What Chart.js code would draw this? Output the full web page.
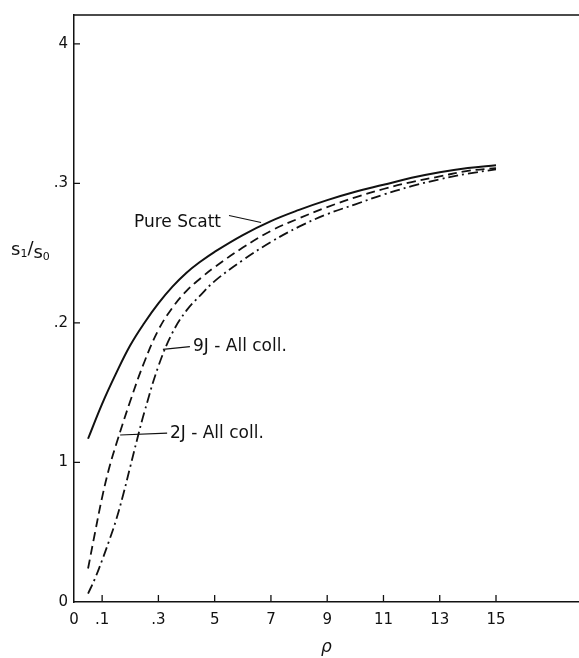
<!DOCTYPE html>
<html>
<head>
<meta charset="utf-8">
<script src="https://cdn.jsdelivr.net/npm/chart.js@4.4.1/dist/chart.umd.min.js"></script>
<style>
    html, body { margin: 0; padding: 0; background: #fff; }
    #wrap { width: 579px; height: 658px; position: relative; }
</style>
</head>
<body>
<div id="wrap"><canvas id="chart"></canvas></div>
<script>
    // Data
    const rhoPure = [0.5, 1, 1.5, 2, 2.5, 3, 3.5, 4, 4.5, 5, 6, 7, 8, 9, 10, 11, 12, 13, 14, 15];
    const pureScatt = [0.117, 0.142, 0.164, 0.184, 0.200, 0.214, 0.226, 0.236, 0.244, 0.251, 0.263, 0.273, 0.281, 0.288, 0.294, 0.299, 0.304, 0.308, 0.311, 0.313];

    const rho9J = [0.5, 0.75, 1, 1.25, 1.5, 2, 2.5, 3, 3.5, 4, 4.5, 5, 6, 7, 8, 9, 10, 11, 12, 13, 14, 15];
    const allColl9J = [0.024, 0.050, 0.075, 0.096, 0.113, 0.144, 0.172, 0.195, 0.211, 0.223, 0.232, 0.240, 0.254, 0.266, 0.275, 0.283, 0.290, 0.296, 0.301, 0.305, 0.309, 0.311];

    const rho2J = [0.5, 0.75, 1, 1.25, 1.5, 1.75, 2, 2.25, 2.5, 3, 3.5, 4, 4.5, 5, 6, 7, 8, 9, 10, 11, 12, 13, 14, 15];
    const allColl2J = [0.006, 0.017, 0.030, 0.044, 0.059, 0.077, 0.097, 0.117, 0.136, 0.169, 0.193, 0.209, 0.220, 0.230, 0.245, 0.258, 0.269, 0.278, 0.285, 0.292, 0.298, 0.303, 0.307, 0.310];

    const xTickValues = [0, 1, 3, 5, 7, 9, 11, 13, 15];
    const xTickLabels = ['0', '.1', '.3', '5', '7', '9', '11', '13', '15'];
    const yTickValues = [0, 0.1, 0.2, 0.3, 0.4];
    const yTickLabels = ['0', '1', '.2', '.3', '4'];

    // Curve labels and their leader lines (data coords)
    const noteTexts = ['Pure Scatt', '9J - All coll.', '2J - All coll.'];
    const notePos = [[2.13, 0.272], [4.23, 0.183], [3.41, 0.1204]];
    const leaderFrom = [[5.51, 0.277], [3.16, 0.181], [1.64, 0.1197]];
    const leaderTo = [[6.65, 0.272], [4.12, 0.183], [3.31, 0.121]];

    const ink = '#111';
    Chart.defaults.font.family = "'DejaVu Sans', sans-serif";
    Chart.defaults.color = ink;

    function toPoints(xs, ys) {
        return xs.map((x, i) => ({ x: x, y: ys[i] }));
    }

    // Inner tick marks, top frame, y title and curve notes
    const decorations = {
        id: 'decorations',
        afterDraw(chart) {
            const ctx = chart.ctx;
            const xs = chart.scales.x;
            const ys = chart.scales.y;
            const area = chart.chartArea;

            ctx.save();
            ctx.strokeStyle = ink;
            ctx.lineWidth = 1.3;
            ctx.beginPath();
            xTickValues.forEach(v => {
                if (v === 0) return;
                const px = xs.getPixelForValue(v);
                ctx.moveTo(px, area.bottom);
                ctx.lineTo(px, area.bottom - 7);
            });
            yTickValues.forEach(v => {
                if (v === 0) return;
                const py = ys.getPixelForValue(v);
                ctx.moveTo(area.left, py);
                ctx.lineTo(area.left + 6, py);
            });
            ctx.moveTo(area.left, area.top);
            ctx.lineTo(area.right, area.top);
            ctx.stroke();

            // leaders
            ctx.lineWidth = 1.2;
            ctx.beginPath();
            leaderFrom.forEach((p, i) => {
                ctx.moveTo(xs.getPixelForValue(p[0]), ys.getPixelForValue(p[1]));
                ctx.lineTo(xs.getPixelForValue(leaderTo[i][0]), ys.getPixelForValue(leaderTo[i][1]));
            });
            ctx.stroke();

            ctx.fillStyle = ink;
            ctx.font = "17px 'DejaVu Sans', sans-serif";
            ctx.textBaseline = 'middle';
            ctx.textAlign = 'left';
            noteTexts.forEach((t, i) => {
                ctx.fillText(t, xs.getPixelForValue(notePos[i][0]), ys.getPixelForValue(notePos[i][1]));
            });

            // y axis title s1/s0
            let tx = 11;
            const ty = 250;
            ctx.font = "18px 'DejaVu Sans', sans-serif";
            ctx.fillText('s', tx, ty);
            tx += ctx.measureText('s').width;
            ctx.font = "11px 'DejaVu Sans', sans-serif";
            ctx.fillText('1', tx, ty + 4);
            tx += ctx.measureText('1').width;
            ctx.font = "18px 'DejaVu Sans', sans-serif";
            ctx.fillText('/', tx, ty - 1);
            tx += ctx.measureText('/').width;
            ctx.fillText('s', tx, ty + 3);
            tx += ctx.measureText('s').width;
            ctx.font = "11px 'DejaVu Sans', sans-serif";
            ctx.fillText('0', tx, ty + 7);
            ctx.restore();
        }
    };

    new Chart(document.getElementById('chart').getContext('2d'), {
        type: 'line',
        data: {
            datasets: [
                {
                    label: 'Pure Scatt',
                    data: toPoints(rhoPure, pureScatt),
                    borderColor: ink,
                    borderWidth: 2,
                    pointRadius: 0,
                    tension: 0.4
                },
                {
                    label: '9J - All coll.',
                    data: toPoints(rho9J, allColl9J),
                    borderColor: ink,
                    borderWidth: 1.8,
                    borderDash: [9, 5],
                    pointRadius: 0,
                    tension: 0.4
                },
                {
                    label: '2J - All coll.',
                    data: toPoints(rho2J, allColl2J),
                    borderColor: ink,
                    borderWidth: 1.8,
                    borderDash: [10, 4, 2, 4],
                    pointRadius: 0,
                    tension: 0.4
                }
            ]
        },
        options: {
            responsive: true,
            maintainAspectRatio: false,
            animation: false,
            layout: { padding: { top: 14, right: 0, left: 0, bottom: 0 } },
            plugins: {
                legend: { display: false },
                tooltip: { enabled: false }
            },
            scales: {
                x: {
                    type: 'linear',
                    min: 0,
                    max: 17.95,
                    afterFit: s => { s.height = 56; },
                    afterBuildTicks: s => { s.ticks = xTickValues.map(v => ({ value: v })); },
                    ticks: {
                        padding: 9,
                        maxRotation: 0,
                        autoSkip: false,
                        font: { size: 15 },
                        callback: v => xTickLabels[xTickValues.indexOf(v)]
                    },
                    grid: { display: false, drawTicks: false },
                    border: { display: true, color: ink, width: 1.5 },
                    title: {
                        display: true,
                        text: 'ρ',
                        font: { size: 17, style: 'italic' },
                        padding: { top: 0, bottom: 0 }
                    }
                },
                y: {
                    type: 'linear',
                    min: 0,
                    max: 0.4207,
                    afterFit: s => { s.width = 74; },
                    afterBuildTicks: s => { s.ticks = yTickValues.map(v => ({ value: v })); },
                    ticks: {
                        padding: 6,
                        autoSkip: false,
                        font: { size: 15 },
                        callback: v => yTickLabels[yTickValues.indexOf(v)]
                    },
                    grid: { display: false, drawTicks: false },
                    border: { display: true, color: ink, width: 1.5 }
                }
            }
        },
        plugins: [decorations]
    });
</script>
</body>
</html>
